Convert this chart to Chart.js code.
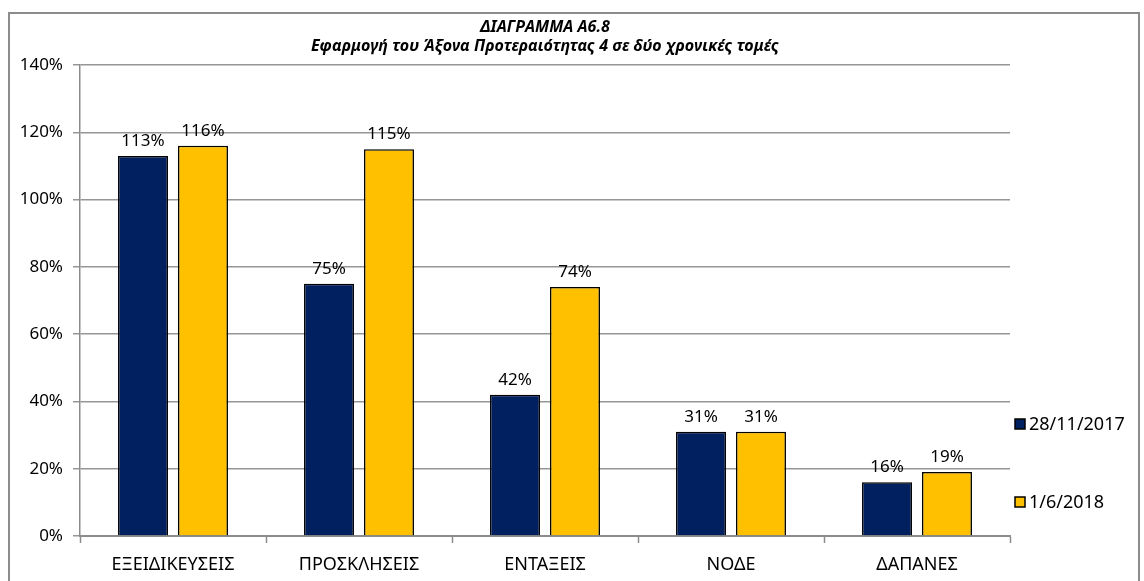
<!DOCTYPE html>
<html lang="el">
<head>
  <meta charset="UTF-8">
  <title>ΔΙΑΓΡΑΜΜΑ Α6.8</title>
  <script src="https://cdn.jsdelivr.net/npm/chart.js"></script>
  <style>
    html, body { margin: 0; padding: 0; background: #ffffff; }
    #chart-container { width: 1144px; height: 581px; position: relative; }
  </style>
</head>
<body>
<div id="chart-container">
  <canvas id="barChart"></canvas>
</div>
<script>
  // data
  const categories = ['ΕΞΕΙΔΙΚΕΥΣΕΙΣ', 'ΠΡΟΣΚΛΗΣΕΙΣ', 'ΕΝΤΑΞΕΙΣ', 'ΝΟΔΕ', 'ΔΑΠΑΝΕΣ'];
  const seriesNames = ['28/11/2017', '1/6/2018'];
  const values2017 = [113, 75, 42, 31, 16];
  const values2018 = [116, 115, 74, 31, 19];
  const titleLines = ['ΔΙΑΓΡΑΜΜΑ Α6.8', 'Εφαρμογή του Άξονα Προτεραιότητας 4 σε δύο χρονικές τομές'];

  const FONT = '"Noto Sans", "Open Sans", sans-serif';

  // outer frame of the chart object
  const framePlugin = {
    id: 'frame',
    beforeDraw(chart) {
      const c = chart.ctx;
      c.save();
      c.strokeStyle = '#8c8c8c';
      c.lineWidth = 2;
      c.strokeRect(9, 13, 1130, 600);
      c.restore();
    }
  };

  // soft shadow under the bars
  const shadowPlugin = {
    id: 'barShadow',
    beforeDatasetDraw(chart) {
      const c = chart.ctx;
      c.save();
      c.shadowColor = 'rgba(0,0,0,0.28)';
      c.shadowBlur = 5;
      c.shadowOffsetX = 3;
      c.shadowOffsetY = 2;
    },
    afterDatasetDraw(chart) {
      chart.ctx.restore();
    }
  };

  // value labels above each bar
  const valueLabels = {
    id: 'valueLabels',
    afterDatasetsDraw(chart) {
      const c = chart.ctx;
      c.save();
      c.font = '17px ' + FONT;
      c.fillStyle = '#000';
      c.textAlign = 'center';
      c.textBaseline = 'middle';
      chart.data.datasets.forEach((ds, i) => {
        chart.getDatasetMeta(i).data.forEach((bar, j) => {
          c.fillText(ds.data[j] + '%', bar.x, bar.y - 15);
        });
      });
      c.restore();
    }
  };

  // legend on the right, spaced like the original
  const sideLegend = {
    id: 'sideLegend',
    afterDraw(chart) {
      const c = chart.ctx;
      const ys = [424, 502];
      c.save();
      c.font = '18px ' + FONT;
      c.textBaseline = 'middle';
      chart.data.datasets.forEach((ds, i) => {
        c.fillStyle = ds.backgroundColor;
        c.fillRect(1015, ys[i] - 5, 10, 10);
        c.strokeStyle = '#000';
        c.lineWidth = 1.5;
        c.strokeRect(1015, ys[i] - 5, 10, 10);
        c.fillStyle = '#000';
        c.fillText(ds.label, 1029, ys[i] + 1);
      });
      c.restore();
    }
  };

  const ctx = document.getElementById('barChart').getContext('2d');
  new Chart(ctx, {
    type: 'bar',
    data: {
      labels: categories,
      datasets: [
        {
          label: seriesNames[0],
          data: values2017,
          backgroundColor: '#002060',
          borderColor: '#000000',
          borderWidth: 1.5
        },
        {
          label: seriesNames[1],
          data: values2018,
          backgroundColor: '#FFC000',
          borderColor: '#000000',
          borderWidth: 1.5
        }
      ]
    },
    options: {
      responsive: true,
      maintainAspectRatio: false,
      animation: false,
      datasets: {
        bar: { categoryPercentage: 0.645, barPercentage: 0.833 }
      },
      layout: { padding: { left: 10, top: 14, right: 134, bottom: 0 } },
      plugins: {
        legend: { display: false },
        tooltip: { enabled: false },
        title: {
          display: true,
          fullSize: false,
          text: titleLines,
          color: '#000',
          font: { family: FONT, size: 16, weight: 'bold', style: 'italic', lineHeight: 1.19 },
          padding: { top: 4, bottom: 9 }
        }
      },
      scales: {
        x: {
          afterFit(scale) { scale.height = 45; },
          grid: {
            offset: true,
            drawOnChartArea: false,
            drawTicks: true,
            tickLength: 7,
            tickWidth: 1.5,
            color: '#8c8c8c'
          },
          border: { color: '#8c8c8c', width: 2 },
          ticks: {
            color: '#000',
            padding: 11,
            maxRotation: 0,
            font: { family: FONT, size: 18 }
          }
        },
        y: {
          min: 0,
          max: 140,
          afterFit(scale) { scale.width = 70; },
          grid: {
            color: '#969696',
            lineWidth: 1.5,
            drawTicks: true,
            tickLength: 7
          },
          border: { color: '#8c8c8c', width: 1.5 },
          ticks: {
            stepSize: 20,
            color: '#000',
            padding: 10,
            font: { family: FONT, size: 17 },
            callback: v => v + '%'
          }
        }
      }
    },
    plugins: [framePlugin, shadowPlugin, valueLabels, sideLegend]
  });
</script>
</body>
</html>
